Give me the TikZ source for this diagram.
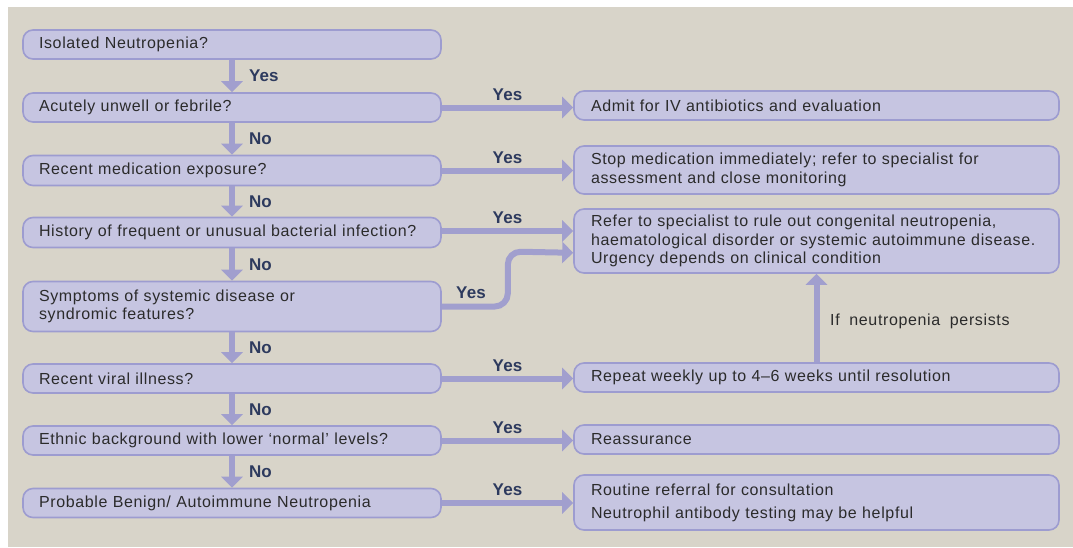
\documentclass[tikz,border=0pt]{standalone}
\usepackage{fontspec}
\setmainfont{Liberation Sans}[WordSpace=1.9, LetterSpace=4]
\newfontfamily\labfont{Liberation Sans}[LetterSpace=1]
\usetikzlibrary{arrows.meta,calc}
\definecolor{bgbeige}{HTML}{D8D4C9}
\definecolor{boxfill}{HTML}{C6C5E1}
\definecolor{boxline}{HTML}{9D9CD0}
\definecolor{arrcol}{HTML}{A19FCE}
\definecolor{labcol}{HTML}{2D3A5E}
\definecolor{txtcol}{HTML}{2B2B2B}
\tikzset{
  lbox/.style={draw=boxline, fill=boxfill, line width=1.6pt, rounded corners=10pt,
    text width=386pt, inner xsep=16pt, inner ysep=0pt, align=left, text=txtcol,
    font=\fontsize{16}{18}\selectfont},
  rbox/.style={draw=boxline, fill=boxfill, line width=1.6pt, rounded corners=10pt,
    text width=451pt, inner xsep=17pt, inner ysep=0pt, align=left, text=txtcol,
    font=\fontsize{16}{18.5}\selectfont},
  arr/.style={draw=arrcol, line width=6pt, -{Triangle[length=11pt,width=21pt]}},
  yn/.style={font=\labfont\bfseries\fontsize{17}{19}\selectfont, text=labcol, inner sep=0pt},
  note/.style={font=\fontsize{16}{18}\selectfont, text=txtcol, inner sep=0pt}
}
\begin{document}
\begin{tikzpicture}[x=1pt, y=-1pt]
\useasboundingbox (0,0) rectangle (1073,547);
\fill[white] (0,0) rectangle (1073,547);
\fill[bgbeige] (8,7) rectangle (1073,547);
% left column
\node[lbox, minimum height=29pt] (b1) at (232,44.5) {Isolated Neutropenia?};
\node[lbox, minimum height=29pt] (b2) at (232,107.5) {Acutely unwell or febrile?};
\node[lbox, minimum height=30pt] (b3) at (232,170.5) {Recent medication exposure?};
\node[lbox, minimum height=30pt] (b4) at (232,232.5) {History of frequent or unusual bacterial infection?};
\node[lbox, minimum height=50pt] (b5) at (232,306.5) {Symptoms of systemic disease or\\syndromic features?};
\node[lbox, minimum height=29pt] (b6) at (232,378.5) {Recent viral illness?};
\node[lbox, minimum height=29pt] (b7) at (232,440.5) {Ethnic background with lower `normal' levels?};
\node[lbox, minimum height=29pt] (b8) at (232,503) {Probable Benign/ Autoimmune Neutropenia};
% right column
\node[rbox, minimum height=29pt] (r1) at (816.5,105.5) {Admit for IV antibiotics and evaluation};
\node[rbox, minimum height=48pt] (r2) at (816.5,170) {Stop medication immediately; refer to specialist for\\assessment and close monitoring};
\node[rbox, minimum height=64pt] (r3) at (816.5,241) {Refer to specialist to rule out congenital neutropenia,\\haematological disorder or systemic autoimmune disease.\\Urgency depends on clinical condition};
\node[rbox, minimum height=29pt] (r4) at (816.5,377.5) {Repeat weekly up to 4--6 weeks until resolution};
\node[rbox, minimum height=29pt] (r5) at (816.5,439.5) {Reassurance};
\node[rbox, minimum height=55pt, font=\fontsize{16}{23}\selectfont] (r6) at (816.5,502.5) {Routine referral for consultation\\Neutrophil antibody testing may be helpful};
% vertical arrows
\draw[arr] (b1.south) -- (b2.north) node[yn, midway, anchor=west, xshift=14pt] (l1) {Yes};
\draw[arr] (b2.south) -- (b3.north) node[yn, midway, anchor=west, xshift=14pt] (l2) {No};
\draw[arr] (b3.south) -- (b4.north) node[yn, midway, anchor=west, xshift=14pt] (l3) {No};
\draw[arr] (b4.south) -- (b5.north) node[yn, midway, anchor=west, xshift=14pt] (l4) {No};
\draw[arr] (b5.south) -- (b6.north) node[yn, midway, anchor=west, xshift=14pt] (l5) {No};
\draw[arr] (b6.south) -- (b7.north) node[yn, midway, anchor=west, xshift=14pt] (l6) {No};
\draw[arr] (b7.south) -- (b8.north) node[yn, midway, anchor=west, xshift=14pt] (l7) {No};
% horizontal arrows
\draw[arr] (b2.east) -- (b2.east -| r1.west) node[yn, midway, above=4pt] (h1) {Yes};
\draw[arr] (b3.east) -- (b3.east -| r2.west) node[yn, midway, above=4pt] (h2) {Yes};
\draw[arr] ($(b4.east)+(0,-1.5)$) -- ($(b4.east -| r3.west)+(0,-1.5)$) node[yn, midway, above=4pt] (h3) {Yes};
\draw[arr, rounded corners=13pt] (b5.east) -- ++(66,0) -- ++(0,-55) -- ($(r3.south west)+(0,-21)$);
\node[yn] (h4) at (471,293) {Yes};
\draw[arr] (b6.east) -- (b6.east -| r4.west) node[yn, midway, above=4pt] (h5) {Yes};
\draw[arr] (b7.east) -- (b7.east -| r5.west) node[yn, midway, above=4pt] (h6) {Yes};
\draw[arr] (b8.east) -- (b8.east -| r6.west) node[yn, midway, above=4pt] (h7) {Yes};
% persists
\draw[arr] (r4.north) -- (r3.south);
\node[note, anchor=west] (pn) at (830,321) {If neutropenia persists};
\end{tikzpicture}
\end{document}
